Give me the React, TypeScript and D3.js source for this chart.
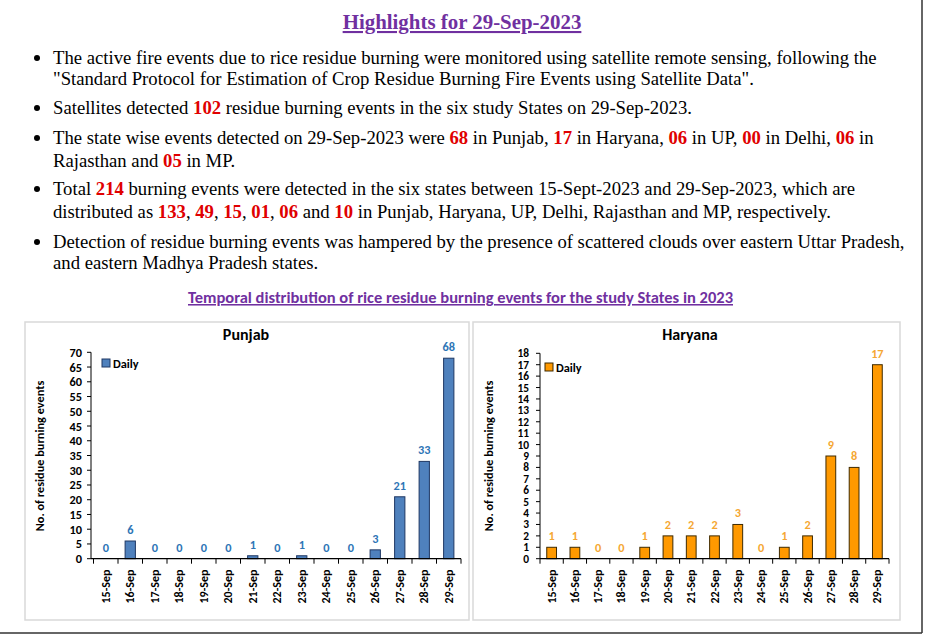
import React from "react";
import * as d3 from "d3";

const dates = ["15-Sep","16-Sep","17-Sep","18-Sep","19-Sep","20-Sep","21-Sep","22-Sep","23-Sep","24-Sep","25-Sep","26-Sep","27-Sep","28-Sep","29-Sep"];
const punjabDaily = [0,6,0,0,0,0,1,0,1,0,0,3,21,33,68];
const haryanaDaily = [1,1,0,0,1,2,2,2,3,0,1,2,9,8,17];
const punjabTicks = d3.range(0, 71, 5);
const haryanaTicks = d3.range(0, 19, 1);

type Seg = { t: string; red?: boolean };
const bulletLines: { segs: Seg[]; bullet: boolean; y: number }[] = [
  { bullet: true, y: 64, segs: [{ t: "The active fire events due to rice residue burning were monitored using satellite remote sensing, following the" }] },
  { bullet: false, y: 85, segs: [{ t: "\"Standard Protocol for Estimation of Crop Residue Burning Fire Events using Satellite Data\"." }] },
  { bullet: true, y: 114, segs: [{ t: "Satellites detected " }, { t: "102", red: true }, { t: " residue burning events in the six study States on 29-Sep-2023." }] },
  { bullet: true, y: 144, segs: [{ t: "The state wise events detected on 29-Sep-2023 were " }, { t: "68", red: true }, { t: " in Punjab, " }, { t: "17", red: true }, { t: " in Haryana, " }, { t: "06", red: true }, { t: " in UP, " }, { t: "00", red: true }, { t: " in Delhi, " }, { t: "06", red: true }, { t: " in" }] },
  { bullet: false, y: 167, segs: [{ t: "Rajasthan and " }, { t: "05", red: true }, { t: " in MP." }] },
  { bullet: true, y: 195, segs: [{ t: "Total " }, { t: "214", red: true }, { t: " burning events were detected in the six states between 15-Sept-2023 and 29-Sep-2023, which are" }] },
  { bullet: false, y: 218, segs: [{ t: "distributed as " }, { t: "133", red: true }, { t: ", " }, { t: "49", red: true }, { t: ", " }, { t: "15", red: true }, { t: ", " }, { t: "01", red: true }, { t: ", " }, { t: "06", red: true }, { t: " and " }, { t: "10", red: true }, { t: " in Punjab, Haryana, UP, Delhi, Rajasthan and MP, respectively." }] },
  { bullet: true, y: 248, segs: [{ t: "Detection of residue burning events was hampered by the presence of scattered clouds over eastern Uttar Pradesh," }] },
  { bullet: false, y: 269, segs: [{ t: "and eastern Madhya Pradesh states." }] },
];

const CAL = "Carlito, Calibri, Lato, 'Open Sans', sans-serif";
const SERIF = "'Liberation Serif', 'Times New Roman', serif";

type ChartProps = {
  title: string;
  data: number[];
  ticks: number[];
  yMax: number;
  box: [number, number, number, number];
  axisX: number;
  bandRange: [number, number];
  yRange: [number, number];
  fill: string;
  stroke: string;
  labelColor: string;
  titleX: number;
  axisTitleX: number;
  legendX: number;
  legendY: number;
  tickLabelGap: number;
  tickFont: number;
};

function BarChart(p: ChartProps) {
  const x = d3.scaleBand<string>().domain(dates).range(p.bandRange).paddingInner(0.58).paddingOuter(0.29);
  const y = d3.scaleLinear().domain([0, p.yMax]).range(p.yRange);
  const step = x.step();
  const x0 = p.bandRange[0];
  const boundaries = d3.range(0, dates.length + 1).map((i) => x0 + i * step);
  const base = y(0);
  return (
    <g>
      <rect x={p.box[0]} y={p.box[1]} width={p.box[2] - p.box[0]} height={p.box[3] - p.box[1]} fill="#fff" stroke="#d9d9d9" strokeWidth={1.5} />
      <text x={p.titleX} y={339.5} textAnchor="middle" fontFamily={CAL} fontWeight="bold" fontSize={16} fill="#000">{p.title}</text>
      <text transform={`translate(${p.axisTitleX},456) rotate(-90)`} textAnchor="middle" dominantBaseline="central" fontFamily={CAL} fontWeight="bold" fontSize={12.3} fill="#000">No. of residue burning events</text>
      {/* y axis */}
      <line x1={p.axisX} x2={p.axisX} y1={y(p.yMax)} y2={base} stroke="#000" strokeWidth={1} />
      {p.ticks.map((t) => (
        <g key={t}>
          <line x1={p.axisX - 4} x2={p.axisX} y1={y(t)} y2={y(t)} stroke="#000" strokeWidth={1} />
          <text x={p.axisX - p.tickLabelGap} y={y(t)} textAnchor="end" dominantBaseline="central" fontFamily={CAL} fontWeight="bold" fontSize={p.tickFont} fill="#000">{t}</text>
        </g>
      ))}
      {/* bars */}
      {p.data.map((v, i) => (
        <rect key={dates[i]} x={x(dates[i])} y={y(v)} width={x.bandwidth()} height={base - y(v)} fill={p.fill} stroke={p.stroke} strokeWidth={1} />
      ))}
      {/* x axis */}
      <line x1={p.axisX} x2={p.bandRange[1]} y1={base} y2={base} stroke="#000" strokeWidth={1.2} />
      {boundaries.map((bx, i) => (
        <line key={i} x1={bx} x2={bx} y1={base} y2={base + 5} stroke="#000" strokeWidth={1} />
      ))}
      {dates.map((d) => (
        <text key={d} transform={`translate(${(x(d) as number) + x.bandwidth() / 2},569.5) rotate(-90)`} textAnchor="end" dominantBaseline="central" fontFamily={CAL} fontWeight="bold" fontSize={12} fill="#000">{d}</text>
      ))}
      {/* data labels */}
      {p.data.map((v, i) => (
        <text key={"l" + i} x={(x(dates[i]) as number) + x.bandwidth() / 2} y={y(v) - 7} textAnchor="middle" fontFamily={CAL} fontWeight="bold" fontSize={12.3} fill={p.labelColor}>{v}</text>
      ))}
      {/* legend */}
      <rect x={p.legendX} y={p.legendY} width={8} height={8} fill={p.fill} stroke={p.stroke} strokeWidth={1} />
      <text x={p.legendX + 11} y={p.legendY + 4} dominantBaseline="central" fontFamily={CAL} fontWeight="bold" fontSize={12.3} fill="#000">Daily</text>
    </g>
  );
}

export default function App() {
  return (
    <div style={{ position: "absolute", left: 0, top: 0 }}>
      <svg width={926} height={637} viewBox="0 0 926 637" style={{ display: "block", background: "#fff" }}>
        <rect x={0} y={0} width={926} height={637} fill="#fff" />
        <text x={462} y={29} textAnchor="middle" fontFamily={SERIF} fontWeight="bold" fontSize={20.9} fill="#7030A0" textDecoration="underline">Highlights for 29-Sep-2023</text>
        {bulletLines.map((ln, i) => (
          <g key={i}>
            {ln.bullet && <circle cx={37} cy={ln.y - 6} r={3} fill="#000" />}
            <text x={53} y={ln.y} fontFamily={SERIF} fontSize={18.7} fill="#000">
              {ln.segs.map((s, j) => (
                <tspan key={j} fill={s.red ? "#E00000" : "#000"} fontWeight={s.red ? "bold" : "normal"}>{s.t}</tspan>
              ))}
            </text>
          </g>
        ))}
        <text x={460.5} y={303} textAnchor="middle" fontFamily={CAL} fontWeight="bold" fontSize={15.5} textLength={545} lengthAdjust="spacingAndGlyphs" fill="#7030A0" textDecoration="underline">Temporal distribution of rice residue burning events for the study States in 2023</text>
        <BarChart title="Punjab" data={punjabDaily} ticks={punjabTicks} yMax={70} box={[25, 322, 469, 620]} axisX={91} bandRange={[93.5, 461]} yRange={[558.7, 352.3]} fill="#4F81BD" stroke="#1F3864" labelColor="#2E75B6" titleX={246} axisTitleX={39} legendX={102} legendY={359} tickLabelGap={9} tickFont={12.3} />
        <BarChart title="Haryana" data={haryanaDaily} ticks={haryanaTicks} yMax={18} box={[473, 322, 900, 620]} axisX={540} bandRange={[540, 889]} yRange={[558.7, 353.3]} fill="#FF9900" stroke="#3F2A00" labelColor="#F5A733" titleX={690} axisTitleX={488} legendX={545} legendY={363} tickLabelGap={11} tickFont={11.4} />
        <line x1={922} x2={922} y1={0} y2={633} stroke="#333" strokeWidth={1.5} />
        <line x1={0} x2={922} y1={633} y2={633} stroke="#333" strokeWidth={1.5} />
      </svg>
    </div>
  );
}
